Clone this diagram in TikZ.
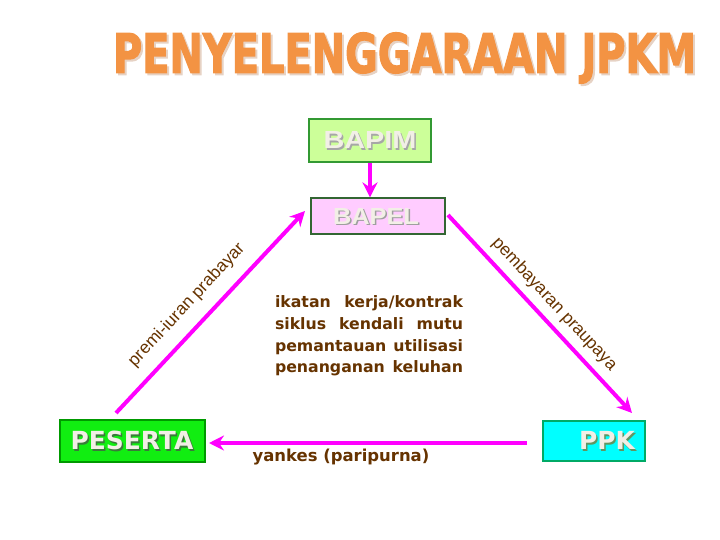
\documentclass[tikz,border=0pt]{standalone}
\usepackage{fontspec}
\setmainfont{DejaVu Sans}
\newfontfamily\arialfont{Liberation Sans}
\newfontfamily\heavyfont[FakeBold=2.5]{DejaVu Sans Bold}
\usetikzlibrary{arrows.meta}
\definecolor{brn}{HTML}{663300}
\definecolor{mag}{HTML}{FF00FF}
\definecolor{ttl}{HTML}{F39343}
\definecolor{ttlsh}{HTML}{E6D2C4}
\definecolor{boxtxt}{HTML}{F2EFE6}
\definecolor{bapimfill}{HTML}{CCFF99}
\definecolor{bapimdraw}{HTML}{339933}
\definecolor{bapelfill}{HTML}{FFCCFF}
\definecolor{bapeldraw}{HTML}{336633}
\definecolor{pesfill}{HTML}{11EE11}
\definecolor{pesdraw}{HTML}{009900}
\definecolor{ppkfill}{HTML}{00FFFF}
\definecolor{ppkdraw}{HTML}{00AA66}
\definecolor{dkshadow}{HTML}{3A7A3A}
\newcommand{\ttltext}{\resizebox{583bp}{40bp}{\heavyfont PENYELENGGARAAN JPKM}}
\tikzset{
  box/.style={draw, line width=1.2bp, inner sep=0pt},
  arr/.style={draw=mag, line width=4bp, -{Stealth[length=15bp,width=15bp,inset=5bp]}},
  lbl/.style={text=brn, font=\arialfont\fontsize{17.5}{17.5}\selectfont, inner sep=2bp},
  mid/.style={text=brn, font=\bfseries\fontsize{15.8}{21.7}\selectfont, inner sep=0pt},
  ttlstyle/.style={text=ttl, inner sep=0pt},
}
\begin{document}
\begin{tikzpicture}[x=1bp,y=-1bp]
\useasboundingbox (0,0) rectangle (720,540);
% title
\node[text=ttlsh, inner sep=0pt] (titlesh) at (406.5,60) {\ttltext};
\node[ttlstyle] (title) at (404.5,58) {\ttltext};
% boxes
\node[box, draw=bapimdraw, fill=bapimfill, minimum width=122bp, minimum height=43bp] (bapim) at (370,140.5) {};
\node[text=gray!70, inner sep=0pt] (bapimsh) at (371.5,142) {\resizebox{93bp}{17bp}{\arialfont\bfseries BAPIM}};
\node[text=boxtxt, inner sep=0pt] (bapimt) at (370,140.5) {\resizebox{93bp}{17bp}{\arialfont\bfseries BAPIM}};

\node[box, draw=bapeldraw, fill=bapelfill, minimum width=134bp, minimum height=36bp] (bapel) at (378,216) {};
\node[text=gray!75, inner sep=0pt] (bapelsh) at (377.5,217.5) {\resizebox{86bp}{16bp}{\arialfont\bfseries BAPEL}};
\node[text=boxtxt, inner sep=0pt] (bapelt) at (376,216) {\resizebox{86bp}{16bp}{\arialfont\bfseries BAPEL}};

\node[box, draw=pesdraw, fill=pesfill, minimum width=145bp, minimum height=42bp] (peserta) at (132.5,441) {};
\node[text=dkshadow, inner sep=0pt, font=\bfseries\fontsize{25}{25}\selectfont] (pessh) at (133.5,442) {PESERTA};
\node[text=boxtxt, inner sep=0pt, font=\bfseries\fontsize{25}{25}\selectfont] (pest) at (132,440) {PESERTA};

\node[box, draw=ppkdraw, fill=ppkfill, minimum width=102bp, minimum height=40bp] (ppk) at (594,441) {};
\node[text=dkshadow!80, inner sep=0pt, font=\bfseries\fontsize{25}{25}\selectfont] (ppksh) at (608.5,442) {PPK};
\node[text=boxtxt, inner sep=0pt, font=\bfseries\fontsize{25}{25}\selectfont] (ppkt) at (607,440) {PPK};

% connectors
\draw[arr] (bapim.south) -- (bapim.south |- bapel.north);
\coordinate (l1) at (116,413);
\coordinate (l2) at (305,211);
\coordinate (r1) at (448,215);
\coordinate (r2) at (632,413);
\coordinate (b1) at (527,443);
\coordinate (b2) at (209,443);
\draw[arr] (l1) -- node[lbl, sloped, above=10bp, pos=0.46] {premi-iuran prabayar} (l2);
\draw[arr] (r1) -- node[lbl, sloped, above=5bp, pos=0.51] {pembayaran praupaya} (r2);
\draw[arr] (b1) -- (b2);

% texts
\node[mid] (mtext) at (369,336) {\begin{tabular}{@{}l@{}}
\makebox[188bp][s]{ikatan kerja/kontrak}\\
\makebox[188bp][s]{siklus kendali mutu}\\
\makebox[188bp][s]{pemantauan utilisasi}\\
\makebox[188bp][s]{penanganan keluhan}\end{tabular}};
\node[text=brn, font=\bfseries\fontsize{16.5}{16.5}\selectfont, inner sep=0pt] (yankes) at (341,457) {yankes (paripurna)};
\end{tikzpicture}
\end{document}
